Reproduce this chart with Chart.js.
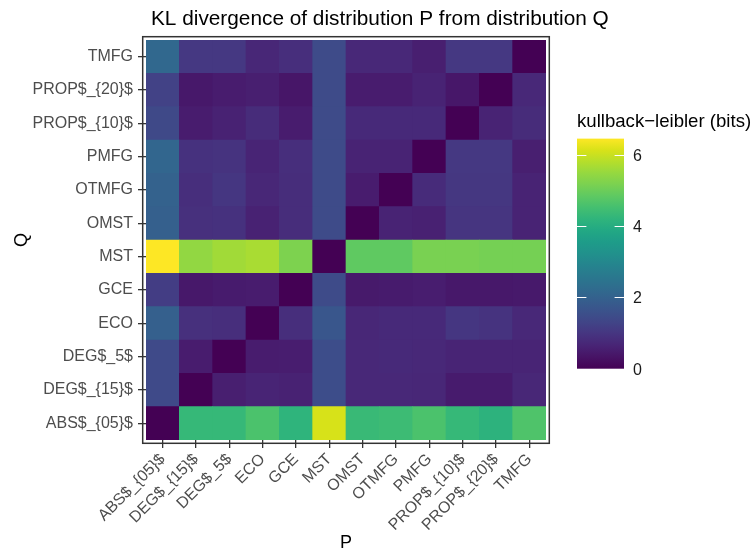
<!DOCTYPE html>
<html>
<head>
<meta charset="utf-8">
<script src="https://cdn.jsdelivr.net/npm/chart.js@4/dist/chart.umd.min.js"></script>
<style>
  html, body { margin: 0; padding: 0; background: #ffffff; }
  #c { display: block; }
</style>
</head>
<body>
<canvas id="c" width="753" height="556"></canvas>
<script>
// ---- categories ----
const P_LABELS = ['ABS$_{05}$','DEG$_{15}$','DEG$_5$','ECO','GCE','MST','OMST','OTMFG','PMFG','PROP$_{10}$','PROP$_{20}$','TMFG'];
const Q_LABELS = ['ABS$_{05}$','DEG$_{15}$','DEG$_5$','ECO','GCE','MST','OMST','OTMFG','PMFG','PROP$_{10}$','PROP$_{20}$','TMFG'];

// ---- KL divergence (bits), one array per Q row, columns in P_LABELS order ----
const kl_ABS05  = [0.00, 4.30, 4.30, 4.60, 4.20, 6.12, 4.35, 4.40, 4.60, 4.30, 4.15, 4.65];
const kl_DEG15  = [1.42, 0.00, 0.55, 0.65, 0.60, 1.50, 0.72, 0.72, 0.70, 0.48, 0.48, 0.70];
const kl_DEG5   = [1.42, 0.50, 0.00, 0.50, 0.52, 1.50, 0.72, 0.75, 0.72, 0.65, 0.65, 0.65];
const kl_ECO    = [1.95, 0.88, 0.85, 0.00, 0.85, 1.70, 0.70, 0.75, 0.75, 1.00, 0.95, 0.72];
const kl_GCE    = [1.15, 0.42, 0.48, 0.50, 0.00, 1.45, 0.45, 0.48, 0.52, 0.42, 0.42, 0.44];
const kl_MST    = [6.45, 5.45, 5.60, 5.68, 5.20, 0.00, 4.85, 4.85, 5.15, 5.15, 5.10, 5.10];
const kl_OMST   = [1.95, 0.88, 0.90, 0.60, 0.82, 1.45, 0.00, 0.62, 0.58, 0.98, 0.98, 0.62];
const kl_OTMFG  = [2.00, 0.85, 1.00, 0.70, 0.82, 1.45, 0.50, 0.00, 0.78, 1.02, 1.02, 0.62];
const kl_PMFG   = [2.10, 0.90, 0.95, 0.65, 0.85, 1.45, 0.62, 0.62, 0.00, 1.05, 1.05, 0.55];
const kl_PROP10 = [1.40, 0.50, 0.60, 0.80, 0.50, 1.45, 0.75, 0.75, 0.75, 0.00, 0.62, 0.80];
const kl_PROP20 = [1.25, 0.42, 0.50, 0.55, 0.38, 1.45, 0.50, 0.50, 0.62, 0.40, 0.00, 0.72];
const kl_TMFG   = [2.15, 1.05, 1.05, 0.70, 0.85, 1.45, 0.72, 0.72, 0.55, 1.05, 1.05, 0.00];

const ROWS = [kl_ABS05, kl_DEG15, kl_DEG5, kl_ECO, kl_GCE, kl_MST, kl_OMST, kl_OTMFG, kl_PMFG, kl_PROP10, kl_PROP20, kl_TMFG];
const LEGEND_TICKS = [0, 2, 4, 6];
const LEGEND_TITLE = 'kullback\u2212leibler (bits)';
const TITLE = 'KL divergence of distribution P from distribution Q';

// ---- viridis palette ----
const VIRIDIS = ['#440154','#471365','#482475','#463480','#414487','#3b528b','#355f8d','#2f6c8e','#2a788e','#25848e','#21918c','#1e9c89','#22a884','#2fb47c','#44bf70','#5ec962','#7ad151','#95d840','#b5de2b','#d8e219','#fde725'];
function hex2rgb(h){ return [parseInt(h.slice(1,3),16), parseInt(h.slice(3,5),16), parseInt(h.slice(5,7),16)]; }
const VRGB = VIRIDIS.map(hex2rgb);
const VMIN = 0;
const VMAX = Math.max(...ROWS.map(r => Math.max(...r)));
function viridis(v){
  let t = (v - VMIN) / (VMAX - VMIN);
  t = Math.max(0, Math.min(1, t));
  const s = t * (VRGB.length - 1);
  const i = Math.min(Math.floor(s), VRGB.length - 2);
  const f = s - i;
  const a = VRGB[i], b = VRGB[i+1];
  return 'rgb(' + [0,1,2].map(k => Math.round(a[k] + (b[k]-a[k])*f)).join(',') + ')';
}

const datasets = ROWS.map((row, r) => ({
  label: Q_LABELS[r],
  data: row.map(() => [r - 0.5, r + 0.5]),
  backgroundColor: row.map(v => viridis(v)),
  borderWidth: 0,
  grouped: false,
  barPercentage: 1,
  categoryPercentage: 1
}));

const FONT = '"Liberation Sans", Arial, Helvetica, sans-serif';
const GAP = 3.3;

const decorPlugin = {
  id: 'decor',
  afterDatasetsDraw(chart) {
    const {ctx, chartArea: a} = chart;
    ctx.save();
    ctx.strokeStyle = '#333333';
    ctx.lineWidth = 1.5;
    ctx.strokeRect(a.left - GAP, a.top - GAP, (a.right - a.left) + 2*GAP, (a.bottom - a.top) + 2*GAP);
    ctx.restore();
  },
  afterDraw(chart) {
    const {ctx} = chart;
    ctx.save();
    // main title
    ctx.fillStyle = '#000000';
    ctx.font = '20.8px ' + FONT;
    ctx.textAlign = 'left';
    ctx.textBaseline = 'alphabetic';
    ctx.fillText(TITLE, 151, 25);

    // colour bar legend
    const bx = 577, bw = 47;
    const y0 = 368.7, pxPerUnit = 35.67;
    const yTop = y0 - (VMAX - VMIN) * pxPerUnit;
    const g = ctx.createLinearGradient(0, y0, 0, yTop);
    VIRIDIS.forEach((c, i) => g.addColorStop(i / (VIRIDIS.length - 1), c));
    ctx.fillStyle = g;
    ctx.fillRect(bx, yTop, bw, y0 - yTop);

    ctx.strokeStyle = '#ffffff';
    ctx.lineWidth = 1;
    ctx.fillStyle = '#1a1a1a';
    ctx.font = '16px ' + FONT;
    ctx.textAlign = 'left';
    ctx.textBaseline = 'middle';
    LEGEND_TICKS.forEach(t => {
      const y = Math.round(y0 - (t - VMIN) * pxPerUnit) + 0.5;
      ctx.beginPath();
      ctx.moveTo(bx, y); ctx.lineTo(bx + bw/5, y);
      ctx.moveTo(bx + bw - bw/5, y); ctx.lineTo(bx + bw, y);
      ctx.stroke();
      ctx.fillText(String(t), 633, y + 1);
    });
    ctx.fillStyle = '#000000';
    ctx.font = '18.6px ' + FONT;
    ctx.textBaseline = 'alphabetic';
    ctx.fillText(LEGEND_TITLE, 577, 127);
    ctx.restore();
  }
};

new Chart(document.getElementById('c'), {
  type: 'bar',
  data: { labels: P_LABELS, datasets },
  options: {
    responsive: false,
    animation: false,
    events: [],
    layout: { padding: { left: 0, top: 40, right: 207, bottom: 0 } },
    plugins: { legend: { display: false }, tooltip: { enabled: false }, title: { display: false } },
    scales: {
      x: {
        type: 'category',
        offset: true,
        afterFit(scale) { scale.height = 116; },
        grid: { offset: false, drawOnChartArea: false, drawTicks: true, tickLength: 8, color: '#333333', lineWidth: 1.3 },
        border: { display: false },
        ticks: { minRotation: 45, maxRotation: 45, autoSkip: false, padding: 2, color: '#4d4d4d', font: { family: FONT, size: 16 } },
        title: { display: true, text: 'P', color: '#000000', font: { family: FONT, size: 18 }, padding: { top: 0, bottom: 2 } }
      },
      y: {
        type: 'linear',
        min: -0.5,
        max: 11.5,
        afterFit(scale) { scale.width = 146; },
        afterBuildTicks(scale) { scale.ticks = Q_LABELS.map((_, i) => ({ value: i })); },
        grid: { drawOnChartArea: false, drawTicks: true, tickLength: 8, color: '#333333', lineWidth: 1.3 },
        border: { display: false },
        ticks: { autoSkip: false, padding: 5, color: '#4d4d4d', font: { family: FONT, size: 16 }, callback: (v) => Q_LABELS[v] },
        title: { display: true, text: 'Q', color: '#000000', font: { family: FONT, size: 18 }, padding: { top: 11, bottom: 0 } }
      }
    }
  },
  plugins: [decorPlugin]
});
</script>
</body>
</html>
